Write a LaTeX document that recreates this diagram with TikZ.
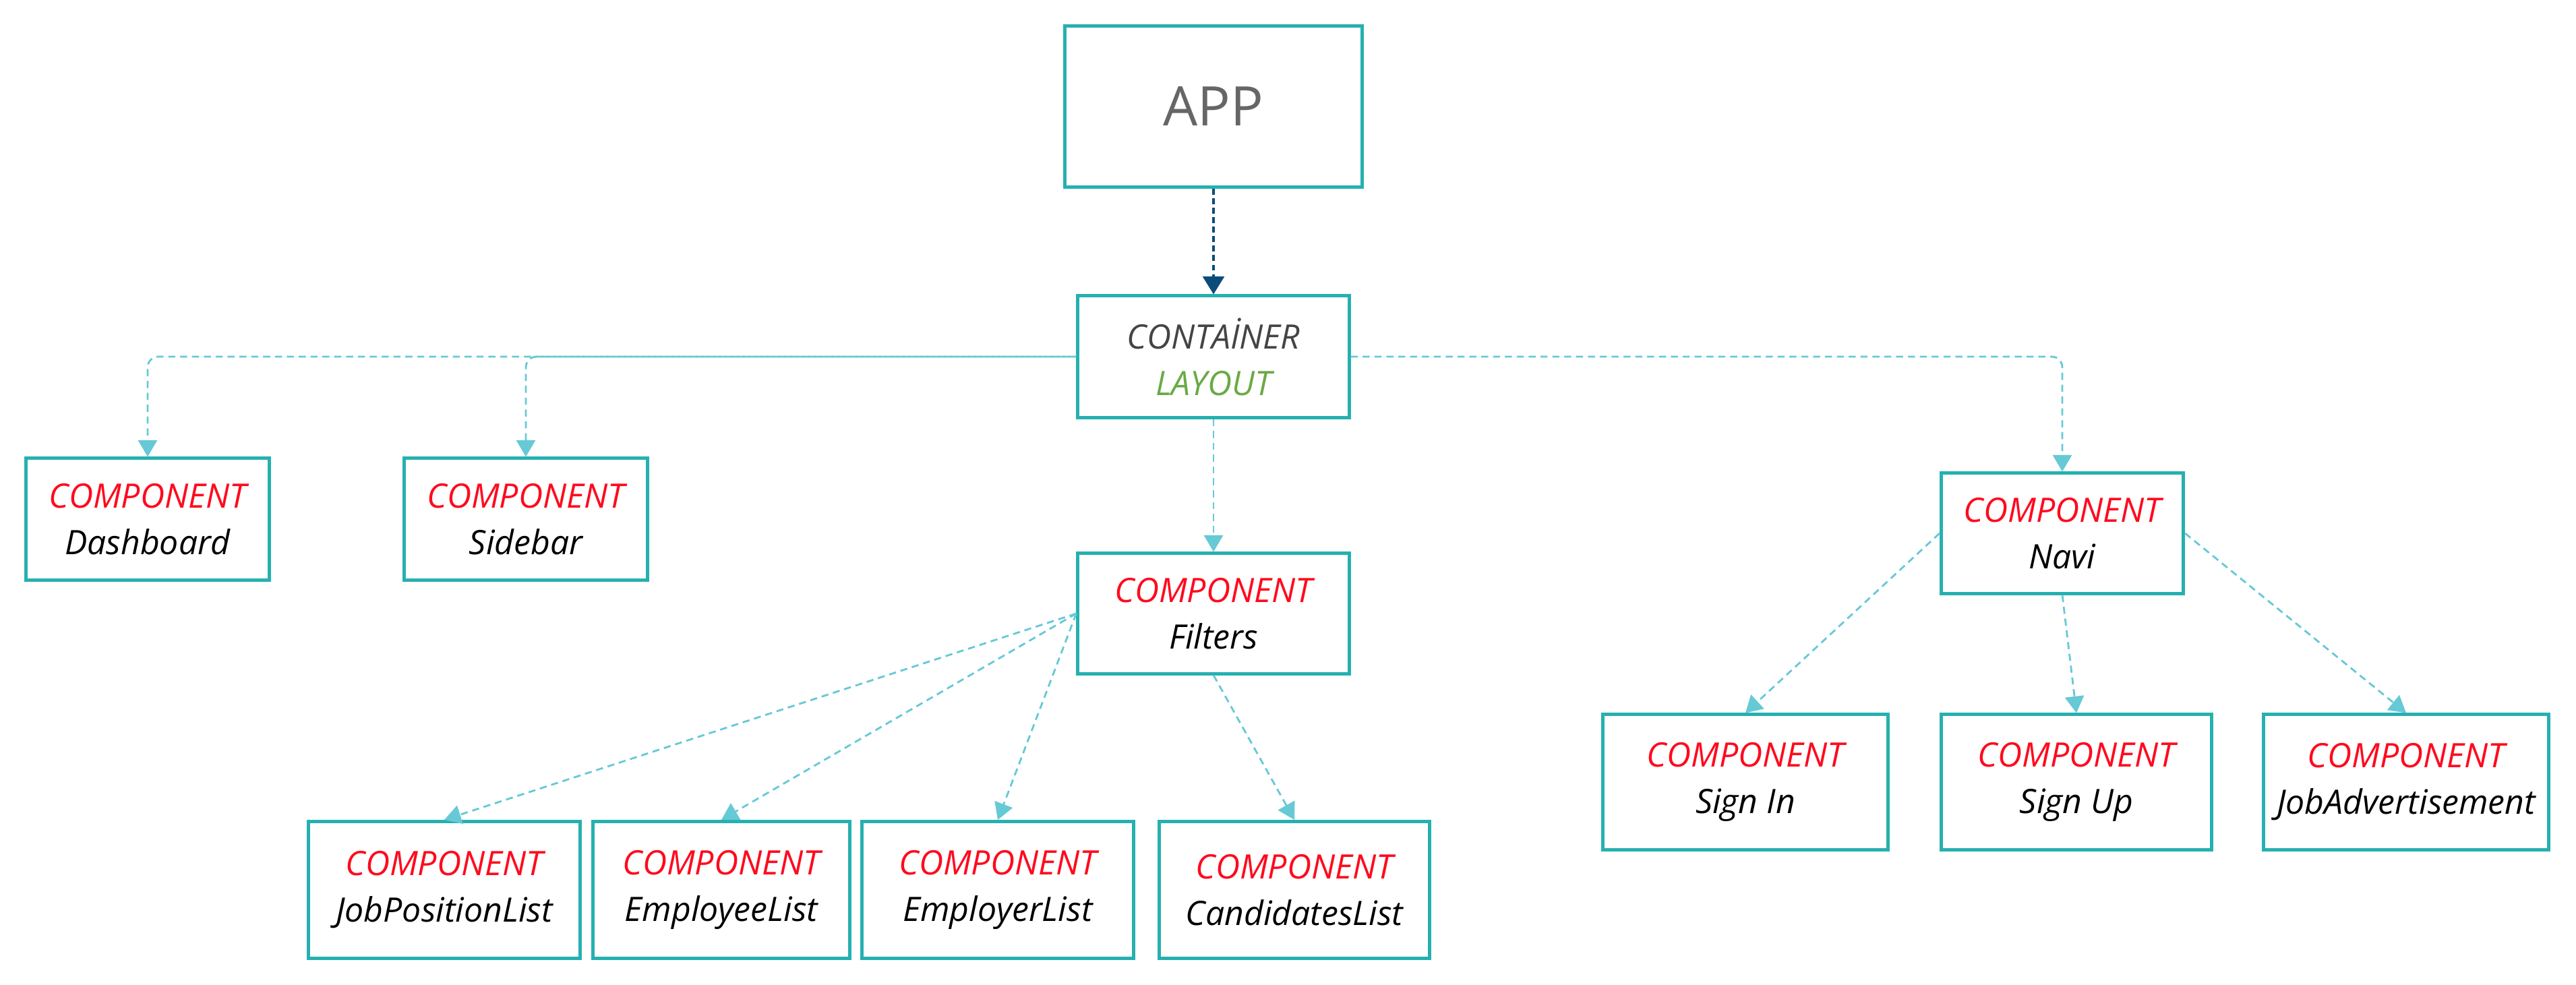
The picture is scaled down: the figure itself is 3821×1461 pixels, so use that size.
\documentclass[tikz,border=0pt]{standalone}
\usepackage{fontspec}
\setmainfont{Open Sans}
\usetikzlibrary{arrows.meta}
\definecolor{boxteal}{RGB}{38,176,176}
\definecolor{linkcyan}{RGB}{102,201,214}
\definecolor{navyarrow}{RGB}{11,76,122}
\definecolor{compred}{RGB}{255,10,30}
\definecolor{laygreen}{RGB}{106,170,69}
\definecolor{appgray}{RGB}{102,102,102}
\definecolor{contgray}{RGB}{68,68,68}
\newcommand{\comp}[1]{{\color{compred}COMPONENT}\\{\color{black}#1}}

\begin{document}
\begin{tikzpicture}[x=0.01cm,y=-0.01cm,
   box/.style={draw=boxteal,line width=1.4pt,fill=white,inner sep=0pt,
     align=center,font=\fontsize{14.2}{19.6}\selectfont\itshape},
   link/.style={draw=linkcyan,line width=0.8pt,dash pattern=on 3pt off 2pt,
     -{Triangle[width=8pt,length=7pt]},rounded corners=4.5pt},
   toplink/.style={draw=navyarrow,line width=1pt,dash pattern=on 2.5pt off 1.5pt,
     -{Triangle[width=9pt,length=7.5pt]}}]
   \useasboundingbox (0,0) rectangle (3821,1461);
   % top
   \node[box,minimum width=4.41cm,minimum height=2.39cm,
     font=\fontsize{23}{28}\selectfont,text=appgray] (app) at (1800,158) {APP};
   \node[box,minimum width=4.02cm,minimum height=1.8cm] (cont) at (1800,529)
     {{\color{contgray}CONTAİNER}\\{\color{laygreen}LAYOUT}};
   % second row
   \node[box,minimum width=3.61cm,minimum height=1.8cm] (dash) at (219,770) {\comp{Dashboard}};
   \node[box,minimum width=3.61cm,minimum height=1.8cm] (side) at (780,770) {\comp{Sidebar}};
   \node[box,minimum width=4.02cm,minimum height=1.78cm] (filt) at (1800,910) {\comp{Filters}};
   \node[box,minimum width=3.59cm,minimum height=1.78cm] (navi) at (3059,791) {\comp{Navi}};
   % lists
   \node[box,minimum width=4.02cm,minimum height=2.03cm] (jobpos) at (659,1320) {\comp{JobPositionList}};
   \node[box,minimum width=3.8cm,minimum height=2.03cm] (employee) at (1070,1320) {\comp{EmployeeList}};
   \node[box,minimum width=4.02cm,minimum height=2.03cm] (employer) at (1480,1320) {\comp{EmployerList}};
   \node[box,minimum width=4.0cm,minimum height=2.03cm] (cand) at (1920,1320) {\comp{CandidatesList}};
   % navi children
   \node[box,minimum width=4.22cm,minimum height=2.0cm] (signin) at (2589,1160) {\comp{Sign In}};
   \node[box,minimum width=4.0cm,minimum height=2.0cm] (signup) at (3080,1160) {\comp{Sign Up}};
   \node[box,minimum width=4.22cm,minimum height=2.0cm] (jobadv) at (3569,1160) {\comp{JobAdvertisement}};
   % connectors
   \draw[toplink] (app) -- (cont);
   \draw[link] (cont.west) -| (dash.north);
   \draw[link,dash phase=2.5pt] (cont.west) -| (side.north);
   \draw[link] (cont.east) -| (navi.north);
   \draw[link] (cont) -- (filt);
   \draw[link] (filt.west) -- (jobpos.north);
   \draw[link] (filt.west) -- (employee.north);
   \draw[link] (filt.west) -- (employer.north);
   \draw[link] (filt.south) -- (cand.north);
   \draw[link] (navi.west) -- (signin.north);
   \draw[link] (navi.south) -- (signup.north);
   \draw[link] (navi.east) -- (jobadv.north);
\end{tikzpicture}
\end{document}
